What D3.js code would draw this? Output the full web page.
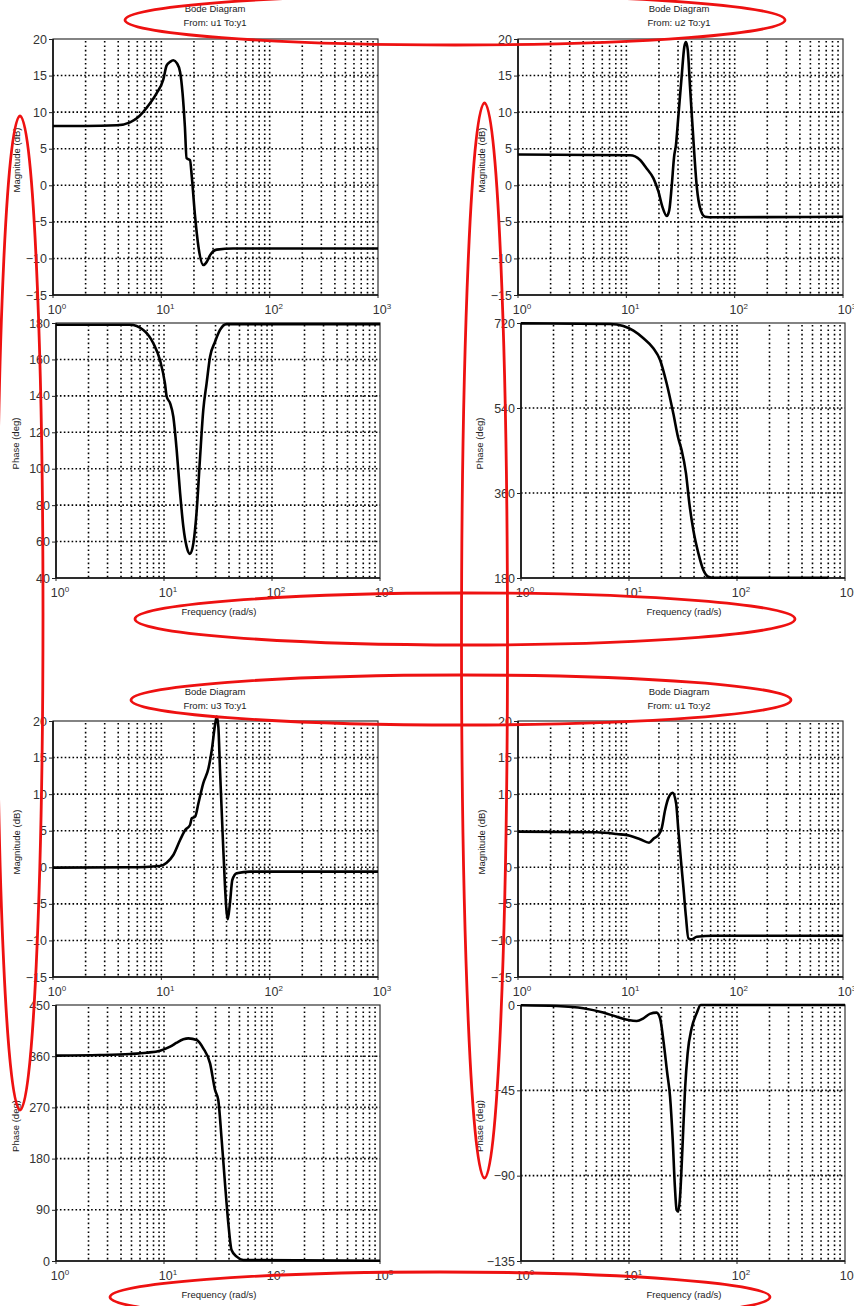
<!DOCTYPE html>
<html>
<head>
<meta charset="utf-8">
<script src="https://cdn.jsdelivr.net/npm/d3@7"></script>
<style>
  body { margin: 0; background: #fff; }
  svg { display: block; }
  text { font-family: "Liberation Sans", Arial, sans-serif; }
</style>
</head>
<body>
<svg id="chart" width="854" height="1306"></svg>
<script>
// ---- Frequency grid / tick values ----
const freqDomain = [1, 1000];
const decadeTicks = [1, 10, 100, 1000];
const decadeExponents = ["0", "1", "2", "3"];

// ---- From: u1 To: y1 ----
const u1y1MagFreq = [1, 2, 3.9, 5.14, 5.93, 6.82, 7.87, 9.06, 10.4, 11.2, 12.0, 12.9, 13.9, 14.9, 15.7, 16.5, 17.1, 18.4, 19.1, 20.5, 22.0, 24.4, 26.3, 28.2, 32.5, 46, 100, 1000];
const u1y1Mag     = [8.1, 8.1, 8.2, 8.6, 9.15, 10.05, 11.2, 12.6, 14.4, 16.4, 16.85, 17.1, 16.7, 15.5, 12.6, 8.0, 3.7, 3.45, 1.2, -4.3, -8.4, -10.9, -10.45, -9.55, -8.8, -8.65, -8.65, -8.65];
const u1y1PhFreq  = [1, 4.84, 6.43, 7.96, 9.18, 10.2, 10.6, 11.4, 12.2, 13.1, 14.1, 15.1, 16.2, 17.4, 18.7, 20.1, 21.5, 23.1, 24.8, 26.7, 29.7, 33, 38, 1000];
const u1y1Phase   = [179, 179, 176.2, 168.9, 159.7, 146.9, 139.5, 135.9, 128.5, 110.3, 86.5, 68.2, 57.2, 53.2, 59.0, 77.3, 104.8, 132.2, 146.9, 161.5, 169.7, 176.2, 179.4, 179.4];

// ---- From: u2 To: y1 ----
const u2y1MagFreq = [1, 10.8, 13.4, 15.4, 17.8, 19.8, 21.5, 23.6, 24.9, 26.2, 27.6, 28.7, 30.2, 32.4, 34.3, 35.5, 36.9, 38.7, 41.6, 44.7, 48.6, 53.3, 63.6, 1000];
const u2y1Mag     = [4.2, 4.1, 3.46, 2.3, 0.95, -0.88, -2.93, -4.2, -3.4, -0.2, 3.9, 5.5, 9.4, 14.85, 18.95, 19.6, 18.5, 13.5, 6.2, -0.2, -3.4, -4.3, -4.38, -4.3];
const u2y1PhFreq  = [1, 6.67, 8.86, 11.0, 13.6, 16.8, 19.4, 22.3, 25.7, 28.6, 30.7, 33.7, 36.2, 39.4, 43.9, 48.8, 54.2, 60.3, 700];
const u2y1Phase   = [719.3, 718, 713.6, 703.7, 687.6, 666.4, 641.7, 592.3, 528.7, 475.8, 451, 401.6, 338.1, 281.6, 232.2, 196.9, 182.8, 180.6, 180.6];

// ---- From: u3 To: y1 ----
const u3y1MagFreq = [1, 5.1, 9.72, 11.2, 12.9, 14.9, 16.6, 18.4, 19.1, 20.5, 22.0, 24.4, 27.2, 29.2, 31.3, 32.5, 33.6, 34.8, 36.9, 38.7, 41, 43, 45.2, 49.6, 65.9, 1000];
const u3y1Mag     = [-0.05, 0, 0.18, 0.63, 1.68, 3.73, 5.1, 5.78, 6.7, 6.92, 8.75, 11.5, 13.5, 16.0, 19.45, 20.6, 19.2, 13.3, 4.18, -2.65, -7.1, -4.9, -1.74, -0.82, -0.6, -0.6];
const u3y1PhFreq  = [1, 2.55, 4.84, 6.92, 9.18, 11.4, 13.1, 15.1, 16.8, 20.1, 23.1, 26.7, 29.7, 31.8, 34.2, 36.7, 39.4, 42.2, 47.1, 54.2, 1000];
const u3y1Phase   = [361, 362, 363.9, 366.2, 369.7, 376.7, 383.8, 389.7, 391.4, 388.5, 373.9, 347.5, 300.6, 283, 212.7, 136.6, 66.3, 19.3, 7.6, 1.8, 0.5];

// ---- From: u1 To: y2 ----
const u1y2MagFreq = [1, 5.33, 8.15, 10.8, 13.4, 16.2, 18.0, 19.8, 21.2, 22.8, 24.4, 26.8, 28.8, 30.2, 32.0, 33.6, 35.5, 37.4, 40.2, 44.7, 63.6, 1000];
const u1y2Mag     = [4.87, 4.78, 4.55, 4.32, 3.83, 3.36, 3.96, 4.41, 5.33, 7.83, 9.43, 10.2, 8.75, 5.1, 0.76, -2.66, -6.76, -9.72, -9.86, -9.5, -9.36, -9.36];
const u1y2PhFreq  = [1, 2.14, 3.78, 5.78, 7.69, 9.86, 11.8, 13.6, 15.6, 18.0, 19.4, 20.8, 22.6, 24, 25.4, 26.6, 27.6, 28.6, 29.7, 31.2, 33, 34.9, 38, 42.3, 46.1, 1000];
const u1y2Phase   = [-0.1, -0.5, -1.7, -4.0, -6.2, -7.9, -8.4, -7.0, -4.7, -4.0, -7.0, -18.5, -36, -48.4, -71.2, -95.8, -108.1, -109, -101, -76.4, -44.8, -25.5, -12.3, -4.4, 0, 0];

// ---- Axis tick values ----
const magTicks = [-15, -10, -5, 0, 5, 10, 15, 20];
const u1y1PhaseTicks = [40, 60, 80, 100, 120, 140, 160, 180];
const u2y1PhaseTicks = [180, 360, 540, 720];
const u3y1PhaseTicks = [0, 90, 180, 270, 360, 450];
const u1y2PhaseTicks = [-135, -90, -45, 0];

// ---- Diagram titles ----
const titles = ["From: u1 To:y1", "From: u2 To:y1", "From: u3 To:y1", "From: u1 To:y2"];

const svg = d3.select("#chart");

function drawPanel(box, ticks, freq, vals, yLabel, withFreqLabel) {
  const g = svg.append("g");
  const x = d3.scaleLog().domain(freqDomain).range([box.x0, box.x1]);
  const y = d3.scaleLinear().domain([ticks[0], ticks[ticks.length - 1]]).range([box.y1, box.y0]);

  // vertical dotted grid at every 1..9 x decade
  const vGrid = [];
  [1, 10, 100].forEach(d => { for (let k = 1; k <= 9; k++) { const v = k * d; if (v > 1) vGrid.push(v); } });
  g.append("g").selectAll("line").data(vGrid).join("line")
    .attr("x1", d => x(d)).attr("x2", d => x(d))
    .attr("y1", box.y0 + 2).attr("y2", box.y1)
    .attr("stroke", "#000").attr("stroke-width", 1.6)
    .attr("stroke-dasharray", "1.6,2.8");

  // horizontal dotted grid
  g.append("g").selectAll("line").data(ticks.slice(1, -1)).join("line")
    .attr("x1", box.x0).attr("x2", box.x1)
    .attr("y1", d => y(d)).attr("y2", d => y(d))
    .attr("stroke", "#000").attr("stroke-width", 1.6)
    .attr("stroke-dasharray", "1.6,2.3");

  // frame
  g.append("rect").attr("x", box.x0).attr("y", box.y0)
    .attr("width", box.x1 - box.x0).attr("height", box.y1 - box.y0)
    .attr("fill", "none").attr("stroke", "#333").attr("stroke-width", 1.2);
  g.append("line").attr("x1", box.x0).attr("x2", box.x0).attr("y1", box.y0).attr("y2", box.y1)
    .attr("stroke", "#111").attr("stroke-width", 1.6);
  g.append("line").attr("x1", box.x0).attr("x2", box.x1).attr("y1", box.y1).attr("y2", box.y1)
    .attr("stroke", "#111").attr("stroke-width", 1.6);

  // y axis: ticks and labels
  const yAx = g.append("g").attr("transform", `translate(${box.x0},0)`)
    .call(d3.axisLeft(y).tickValues(ticks).tickSize(4).tickPadding(2).tickFormat(d3.format("d")));
  yAx.select(".domain").remove();
  yAx.selectAll("line").attr("stroke", "#222");
  yAx.selectAll("text").attr("font-size", 12.5).attr("fill", "#333")
    .attr("font-family", "'Liberation Sans', Arial, sans-serif");

  // x axis: decade ticks with superscript labels
  g.append("g").selectAll("line").data(decadeTicks).join("line")
    .attr("x1", d => x(d)).attr("x2", d => x(d))
    .attr("y1", box.y1).attr("y2", box.y1 + 3)
    .attr("stroke", "#222").attr("stroke-width", 1);
  const xl = g.append("g").selectAll("text").data(decadeTicks).join("text")
    .attr("x", d => x(d) + 4).attr("y", box.y1 + 19)
    .attr("text-anchor", "middle").attr("font-size", 12.5).attr("fill", "#333");
  xl.append("tspan").text("10");
  xl.append("tspan").attr("dy", -5).attr("font-size", 8).text((d, i) => decadeExponents[i]);

  // y label
  const cy = (box.y0 + box.y1) / 2 - 7;
  g.append("text")
    .attr("transform", `translate(${box.labelX},${cy}) rotate(-90)`)
    .attr("text-anchor", "middle").attr("dy", "0.35em")
    .attr("font-size", 9.5).attr("fill", "#222").text(yLabel);

  if (withFreqLabel) {
    g.append("text").attr("x", (box.x0 + box.x1) / 2 + 1).attr("y", box.y1 + 37)
      .attr("text-anchor", "middle").attr("font-size", 9.5).attr("fill", "#222")
      .text("Frequency (rad/s)");
  }

  // response curve
  const pts = freq.map((f, i) => [x(f), y(vals[i])]);
  g.append("path").datum(pts)
    .attr("d", d3.line().curve(d3.curveMonotoneX))
    .attr("fill", "none").attr("stroke", "#000").attr("stroke-width", 2.6)
    .attr("stroke-linejoin", "round");
}

function drawTitle(cx, yTop, sub) {
  svg.append("text").attr("x", cx).attr("y", yTop)
    .attr("text-anchor", "middle").attr("font-size", 9.5).attr("fill", "#222").text("Bode Diagram");
  svg.append("text").attr("x", cx).attr("y", yTop + 14)
    .attr("text-anchor", "middle").attr("font-size", 9.5).attr("fill", "#222").text(sub);
}

// Layout of the four diagrams (magnitude panel above phase panel)
const L = { mx0: 53, mx1: 378, px0: 56, px1: 380, label: 17 };
const R = { mx0: 518, mx1: 843, px0: 521, px1: 845, label: 481 };

// u1 -> y1
drawTitle(215, 11.5, titles[0]);
drawPanel({ x0: L.mx0, x1: L.mx1, y0: 39, y1: 295, labelX: L.label }, magTicks, u1y1MagFreq, u1y1Mag, "Magnitude (dB)", false);
drawPanel({ x0: L.px0, x1: L.px1, y0: 323, y1: 578, labelX: L.label - 1 }, u1y1PhaseTicks, u1y1PhFreq, u1y1Phase, "Phase (deg)", true);

// u2 -> y1
drawTitle(679, 11.5, titles[1]);
drawPanel({ x0: R.mx0, x1: R.mx1, y0: 39, y1: 295, labelX: R.label + 1 }, magTicks, u2y1MagFreq, u2y1Mag, "Magnitude (dB)", false);
drawPanel({ x0: R.px0, x1: R.px1, y0: 323, y1: 578, labelX: R.label - 1 }, u2y1PhaseTicks, u2y1PhFreq, u2y1Phase, "Phase (deg)", true);

// u3 -> y1
drawTitle(215, 694.5, titles[2]);
drawPanel({ x0: L.mx0, x1: L.mx1, y0: 721, y1: 977, labelX: L.label }, magTicks, u3y1MagFreq, u3y1Mag, "Magnitude (dB)", false);
drawPanel({ x0: L.px0, x1: L.px1, y0: 1005, y1: 1261, labelX: L.label - 1 }, u3y1PhaseTicks, u3y1PhFreq, u3y1Phase, "Phase (deg)", true);

// u1 -> y2
drawTitle(679, 694.5, titles[3]);
drawPanel({ x0: R.mx0, x1: R.mx1, y0: 721, y1: 977, labelX: R.label + 1 }, magTicks, u1y2MagFreq, u1y2Mag, "Magnitude (dB)", false);
drawPanel({ x0: R.px0, x1: R.px1, y0: 1005, y1: 1261, labelX: R.label - 1 }, u1y2PhaseTicks, u1y2PhFreq, u1y2Phase, "Phase (deg)", true);

// Red hand-drawn highlight rings over the figure
const rings = [
  { cx: 455, cy: 20, rx: 330, ry: 25 },
  { cx: 465, cy: 619, rx: 330, ry: 26 },
  { cx: 461, cy: 700, rx: 330, ry: 25 },
  { cx: 440, cy: 1297, rx: 330, ry: 25 },
  { cx: 20, cy: 613, rx: 23, ry: 497 },
  { cx: 484.5, cy: 640.5, rx: 23, ry: 537.5 }
];
svg.append("g").selectAll("ellipse").data(rings).join("ellipse")
  .attr("cx", d => d.cx).attr("cy", d => d.cy)
  .attr("rx", d => d.rx).attr("ry", d => d.ry)
  .attr("fill", "none").attr("stroke", "#ee1111").attr("stroke-width", 2.8);
</script>
</body>
</html>
